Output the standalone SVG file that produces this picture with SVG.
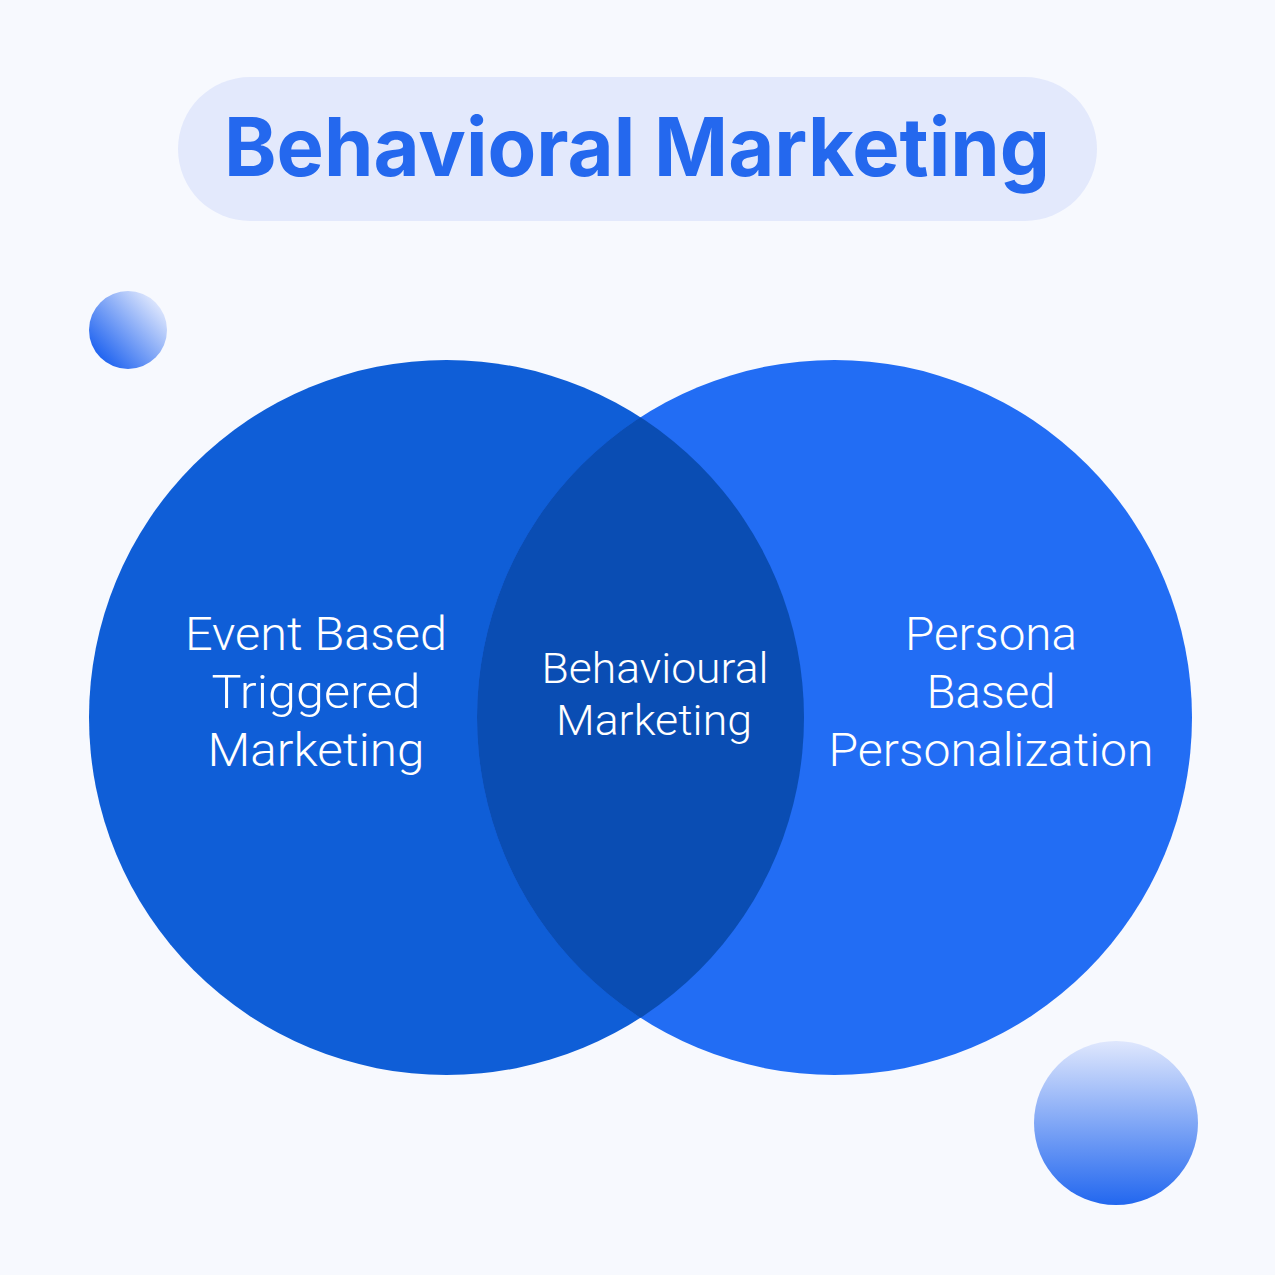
<svg xmlns="http://www.w3.org/2000/svg" width="1275" height="1275" viewBox="0 0 1275 1275">
<style>
.lbl{font-family:Roboto,"Liberation Sans",sans-serif;font-weight:300;fill:#ffffff;text-anchor:middle}
.title{font-family:Inter,"Liberation Sans",sans-serif;font-weight:700;fill:#2468EE;text-anchor:middle}
</style>
<defs>
<linearGradient id="gSmall" x1="0.15" y1="0.85" x2="0.9" y2="0.15">
<stop offset="0" stop-color="#2265F0"/>
<stop offset="1" stop-color="#E0E8FD"/>
</linearGradient>
<linearGradient id="gBig" x1="0" y1="0" x2="0" y2="1">
<stop offset="0" stop-color="#DFE7FD"/>
<stop offset="1" stop-color="#2267EF"/>
</linearGradient>
<clipPath id="clipLeft"><circle cx="446.5" cy="717.5" r="357.5"/></clipPath>
</defs>
<rect width="1275" height="1275" fill="#F7F9FE"/>
<g id="title">
<rect x="178" y="77" width="919" height="144" rx="72" fill="#E3E9FC"/>
<text class="title" x="637" y="176" font-size="81" textLength="826" lengthAdjust="spacingAndGlyphs">Behavioral Marketing</text>
</g>
<g id="sphere-small"><circle cx="128" cy="330" r="39" fill="url(#gSmall)"/></g>
<g id="sphere-big"><circle cx="1116" cy="1123" r="82" fill="url(#gBig)"/></g>
<g id="circle-left"><circle cx="446.5" cy="717.5" r="357.5" fill="#0F5ED7"/></g>
<g id="circle-right"><circle cx="834.5" cy="717.5" r="357.5" fill="#226DF4"/></g>
<g id="overlap"><circle cx="834.5" cy="717.5" r="357.5" fill="#0A4DB3" clip-path="url(#clipLeft)"/></g>
<g id="label-left">
<text class="lbl" x="316" y="650" font-size="46" textLength="262" lengthAdjust="spacingAndGlyphs">Event Based</text>
<text class="lbl" x="316" y="708" font-size="46" textLength="209" lengthAdjust="spacingAndGlyphs">Triggered</text>
<text class="lbl" x="316" y="766" font-size="46" textLength="217" lengthAdjust="spacingAndGlyphs">Marketing</text>
</g>
<g id="label-center">
<text class="lbl" x="655" y="683" font-size="42" textLength="227" lengthAdjust="spacingAndGlyphs">Behavioural</text>
<text class="lbl" x="654" y="735" font-size="42" textLength="196" lengthAdjust="spacingAndGlyphs">Marketing</text>
</g>
<g id="label-right">
<text class="lbl" x="991" y="650" font-size="46" textLength="172" lengthAdjust="spacingAndGlyphs">Persona</text>
<text class="lbl" x="991" y="708" font-size="46" textLength="129" lengthAdjust="spacingAndGlyphs">Based</text>
<text class="lbl" x="991" y="766" font-size="46" textLength="325" lengthAdjust="spacingAndGlyphs">Personalization</text>
</g>
<g id="connectors"></g>
</svg>
